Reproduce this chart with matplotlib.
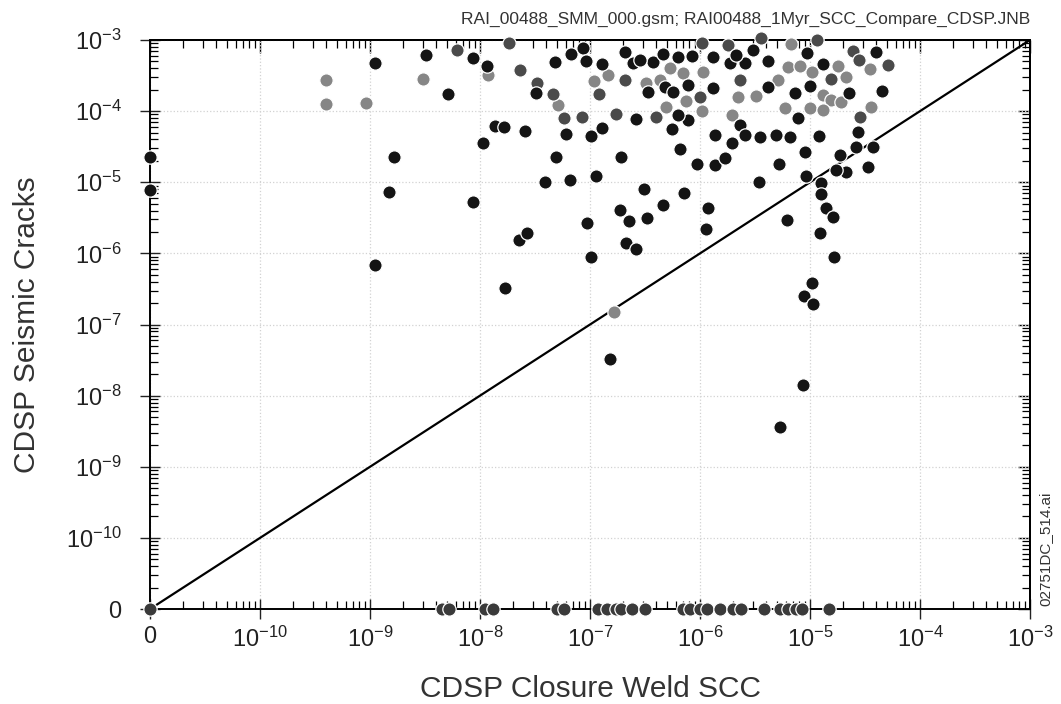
import matplotlib
matplotlib.use("Agg")
import matplotlib.pyplot as plt
from matplotlib.ticker import LogLocator, NullFormatter

plt.rcParams['font.family'] = ['Liberation Sans', 'DejaVu Sans']
plt.rcParams['mathtext.fontset'] = 'custom'
plt.rcParams['mathtext.rm'] = 'Liberation Sans'
plt.rcParams['mathtext.it'] = 'Liberation Sans:italic'
plt.rcParams['mathtext.bf'] = 'Liberation Sans:bold'

# where a zero value sits on the log axes (the "0" tick)
ZERO_AT = 1e-11

# light grey points (CDSP Closure Weld SCC, CDSP Seismic Cracks)
gray_scc = [3.99e-10, 3.99e-10, 9.18e-10, 3.0e-9, 1.17e-8, 1.09e-7, 1.46e-7, 5.13e-8,
            5.31e-7, 7.02e-7, 1.06e-6, 4.31e-7, 7.41e-7, 4.95e-7, 1.04e-6, 3.21e-7,
            6.67e-6, 6.31e-6, 1.05e-5, 2.14e-5, 2.21e-6, 3.21e-6, 1.31e-5, 1.56e-5,
            5.89e-6, 9.93e-6, 1.31e-5, 1.97e-6, 3.61e-5, 3.48e-5, 8.05e-6, 1.79e-5,
            5.12e-6, 1.93e-5, 1.66e-7]
gray_seis = [2.73e-4, 1.25e-4, 1.28e-4, 2.84e-4, 3.22e-4, 2.68e-4, 3.22e-4, 1.22e-4,
             4.0e-4, 3.47e-4, 3.58e-4, 2.74e-4, 1.40e-4, 1.13e-4, 1.01e-4, 2.46e-4,
             8.71e-4, 4.21e-4, 3.58e-4, 3.05e-4, 1.60e-4, 1.63e-4, 1.68e-4, 1.43e-4,
             1.09e-4, 1.09e-4, 1.04e-4, 8.81e-5, 1.13e-4, 3.87e-4, 4.31e-4, 4.31e-4,
             2.74e-4, 1.36e-4, 1.51e-7]

# dark grey points
dgray_scc = [6.21e-9, 1.82e-8, 2.33e-8, 3.30e-8, 1.21e-7, 4.61e-8, 5.81e-8, 8.47e-8,
             1.74e-7, 2.07e-7, 1.05e-6, 1.01e-6, 3.96e-7, 3.61e-6, 1.16e-5, 1.79e-6,
             2.30e-6, 1.56e-5, 2.83e-5, 2.45e-5, 5.10e-5, 2.79e-5]
dgray_seis = [7.23e-4, 9.0e-4, 3.78e-4, 2.51e-4, 1.72e-4, 1.74e-4, 8.07e-5, 8.18e-5,
              9.02e-5, 2.74e-4, 9.0e-4, 1.56e-4, 8.18e-5, 1.05e-3, 1.0e-3, 8.51e-4,
              2.74e-4, 2.80e-4, 8.18e-5, 7.07e-4, 4.45e-4, 5.23e-4]

# black points
black_scc = [1.10e-9, 3.26e-9, 8.65e-9, 5.09e-9, 1.15e-8, 1.37e-8, 1.64e-8, 2.55e-8,
             1.07e-8, 1.64e-9, 1.48e-9, 8.65e-9, 2.25e-8, 2.69e-8, 1.10e-9, 1.69e-8,
             3.26e-8, 9.40e-8, 1.02e-7,
             4.79e-8, 6.68e-8, 8.65e-8, 9.10e-8, 1.28e-7, 6.03e-8, 1.02e-7, 1.29e-7,
             4.89e-8, 1.91e-7, 3.88e-8, 6.55e-8, 1.13e-7, 2.07e-7, 2.46e-7, 3.37e-7,
             3.74e-7, 4.58e-7, 6.31e-7, 8.53e-7, 1.30e-6, 4.85e-7, 5.69e-7, 7.78e-7,
             1.31e-6, 7.78e-7, 2.64e-7, 5.57e-7, 1.36e-6, 6.55e-7, 9.40e-7, 1.38e-6,
             3.08e-7, 7.11e-7, 6.31e-7, 2.83e-7,
             3.03e-6, 1.89e-6, 2.55e-6, 4.15e-6, 9.46e-6, 1.31e-5, 4.15e-6, 9.93e-6,
             7.24e-6, 2.26e-5, 7.76e-6, 4.54e-5, 4.01e-5, 2.33e-6, 3.48e-6, 4.88e-6,
             6.53e-6, 1.21e-5, 2.73e-5, 1.97e-6, 8.93e-6, 2.64e-5, 3.73e-5, 1.86e-5,
             1.67e-6, 5.22e-6, 2.14e-5, 3.36e-5, 9.27e-6, 3.44e-6, 1.25e-5, 1.26e-5,
             2.14e-6, 2.55e-6, 1.73e-5,
             1.86e-7, 2.25e-7, 3.30e-7, 4.61e-7, 1.18e-6, 1.14e-6, 2.14e-7, 2.64e-7,
             6.17e-6, 1.41e-5, 1.61e-5, 1.22e-5, 1.64e-5, 1.05e-5, 8.81e-6, 1.06e-5,
             1.53e-7, 8.71e-6, 5.30e-6,
             0.0, 0.0]
black_seis = [4.76e-4, 6.14e-4, 5.67e-4, 1.74e-4, 4.31e-4, 6.21e-5, 6.01e-5, 5.21e-5,
              3.60e-5, 2.30e-5, 7.28e-6, 5.30e-6, 1.54e-6, 1.91e-6, 6.76e-7, 3.31e-7,
              1.80e-4, 2.64e-6, 8.79e-7,
              4.95e-4, 6.36e-4, 7.64e-4, 5.07e-4, 4.65e-4, 4.76e-5, 4.47e-5, 5.73e-5,
              2.24e-5, 2.24e-5, 1.02e-5, 1.07e-5, 1.23e-5, 6.84e-4, 4.70e-4, 1.87e-4,
              4.85e-4, 6.36e-4, 5.82e-4, 6.01e-4, 5.82e-4, 2.20e-4, 1.87e-4, 2.33e-4,
              2.09e-4, 7.50e-5, 7.67e-5, 5.55e-5, 4.61e-5, 2.90e-5, 1.79e-5, 1.75e-5,
              7.94e-6, 7.11e-6, 8.81e-5, 5.23e-4,
              7.23e-4, 4.70e-4, 4.80e-4, 5.07e-4, 6.50e-4, 4.55e-4, 2.20e-4, 2.25e-4,
              1.82e-4, 1.82e-4, 7.92e-5, 1.94e-4, 6.84e-4, 6.37e-5, 4.28e-5, 4.61e-5,
              4.37e-5, 4.47e-5, 5.13e-5, 3.60e-5, 2.69e-5, 3.16e-5, 3.10e-5, 2.41e-5,
              2.17e-5, 1.80e-5, 1.41e-5, 1.65e-5, 1.23e-5, 9.97e-6, 9.66e-6, 6.82e-6,
              6.15e-4, 4.61e-5, 1.49e-5,
              4.06e-6, 2.84e-6, 3.17e-6, 4.78e-6, 4.30e-6, 2.20e-6, 1.38e-6, 1.14e-6,
              2.94e-6, 4.30e-6, 3.21e-6, 1.91e-6, 8.79e-7, 3.78e-7, 2.51e-7, 1.92e-7,
              3.23e-8, 1.41e-8, 3.57e-9,
              2.26e-5, 7.76e-6]

# points with zero seismic-crack value (bottom row), plus the origin
zero_scc = [0.0, 4.50e-9, 5.26e-9, 1.11e-8, 1.31e-8, 4.99e-8, 5.78e-8, 1.17e-7, 1.42e-7,
            1.71e-7, 1.90e-7, 2.39e-7, 3.15e-7, 6.97e-7, 8.05e-7, 9.93e-7, 1.15e-6,
            1.51e-6, 1.98e-6, 2.34e-6, 3.79e-6, 5.30e-6, 6.27e-6, 7.41e-6, 8.39e-6,
            1.48e-5]
zero_seis = [0.0] * len(zero_scc)

decades = [1e-11, 1e-10, 1e-9, 1e-8, 1e-7, 1e-6, 1e-5, 1e-4, 1e-3]
decade_labels = ['0'] + [r'$\mathregular{10^{%d}}$' % e for e in range(-10, -2)]


def pos(vals):
    return [v if v > 0 else ZERO_AT for v in vals]


fig = plt.figure(figsize=(10.61, 7.04), dpi=100)
ax = fig.add_axes([0.1414, 0.1349, 0.8294, 0.8083])
ax.set_xscale('log')
ax.set_yscale('log')
ax.set_xlim(1e-11, 1e-3)
ax.set_ylim(1e-11, 1e-3)

ax.grid(True, which='major', color='#d2d2d2', linestyle=':', linewidth=0.9)
ax.set_axisbelow(True)

# 1:1 line
ax.plot([1e-11, 1e-3], [1e-11, 1e-3], color='black', lw=1.6, zorder=3)

kw = dict(s=92, edgecolors='white', linewidths=0.9, clip_on=False, zorder=4)
ax.scatter(pos(gray_scc), pos(gray_seis), c='#868686', **kw)
ax.scatter(pos(dgray_scc), pos(dgray_seis), c='#4a4a4a', **kw)
ax.scatter(pos(black_scc), pos(black_seis), c='#141414', **kw)
ax.scatter(pos(zero_scc), pos(zero_seis), c='#3a3a3a', **kw)

for axis in (ax.xaxis, ax.yaxis):
    axis.set_major_locator(plt.FixedLocator(decades))
    axis.set_minor_locator(LogLocator(base=10, subs=range(2, 10), numticks=20))
    axis.set_minor_formatter(NullFormatter())
ax.set_xticklabels(decade_labels)
ax.set_yticklabels(decade_labels)

ax.tick_params(which='major', direction='inout', length=15, width=1.0,
               labelsize=17, colors='#222222')
ax.tick_params(axis='x', which='major', pad=5)
ax.tick_params(axis='y', which='major', pad=13)
ax.tick_params(which='minor', direction='in', length=6, width=0.9)

# inward ticks on top and right
secx = ax.secondary_xaxis('top')
secy = ax.secondary_yaxis('right')
for sec, axis in ((secx, secx.xaxis), (secy, secy.yaxis)):
    axis.set_major_locator(plt.FixedLocator(decades))
    axis.set_minor_locator(LogLocator(base=10, subs=range(2, 10), numticks=20))
    axis.set_major_formatter(NullFormatter())
    axis.set_minor_formatter(NullFormatter())
    sec.tick_params(which='major', direction='in', length=9, width=1.0)
    sec.tick_params(which='minor', direction='in', length=6, width=0.9)
    for sp in sec.spines.values():
        sp.set_linewidth(1.4)

for sp in ax.spines.values():
    sp.set_linewidth(1.4)

ax.set_xlabel('CDSP Closure Weld SCC', fontsize=21.5, color='#333333', labelpad=17)
ax.set_ylabel('CDSP Seismic Cracks', fontsize=21.5, color='#333333', labelpad=18)

fig.text(1030 / 1061, 1 - 19 / 704,
         'RAI_00488_SMM_000.gsm; RAI00488_1Myr_SCC_Compare_CDSP.JNB',
         ha='right', va='center', fontsize=12.5, color='#333333')
fig.text(1045 / 1061, 1 - 549 / 704, '02751DC_514.ai', rotation=90,
         ha='center', va='center', fontsize=11, color='#333333')

fig.savefig('out.png', dpi=100)
